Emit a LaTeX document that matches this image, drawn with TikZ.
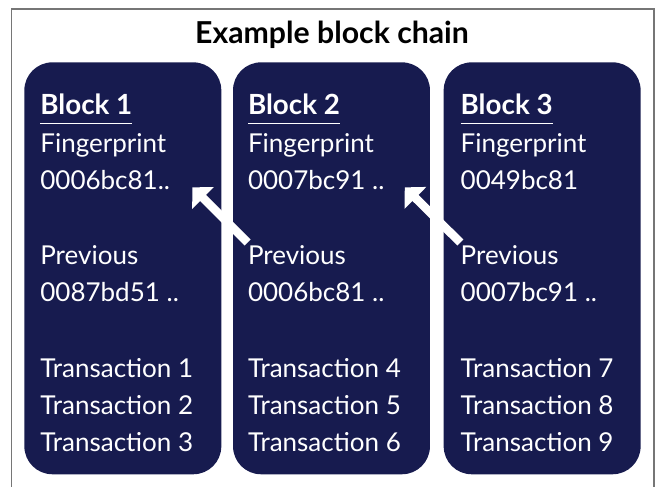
\documentclass[tikz,border=0pt]{standalone}
\usepackage{fontspec}
\setmainfont{Lato}
\usetikzlibrary{arrows.meta,positioning}
\definecolor{chainnavy}{HTML}{171B4F}
\definecolor{framegray}{HTML}{767676}
\newcommand{\blockhead}[1]{\setbox0=\hbox{\bfseries #1}\rlap{\copy0}\rule[-5.6pt]{\wd0}{1pt}}
\newcommand{\entrylines}[1]{\begin{tabular}[t]{@{}l@{}}#1\end{tabular}}
\tikzstyle{block} = [rectangle, rounded corners=0.56cm, fill=chainnavy, minimum width=3.94cm, minimum height=8.24cm, inner sep=0pt]
\tikzstyle{entry} = [text=white, inner sep=0pt, anchor=base west, font=\fontsize{14.8}{21.34}\selectfont]
\tikzstyle{head} = [entry, font=\fontsize{15.8}{21.34}\selectfont]
\tikzstyle{link} = [-{Triangle[length=0.3cm,width=0.6cm]}, white, line width=0.17cm]

\begin{document}
\begin{tikzpicture}[x=0.02cm,y=-0.02cm]
  \useasboundingbox (0,0) rectangle (657,487);
  \draw[framegray,line width=0.8pt] (11.5,487) -- (11.5,9) -- (654,9) -- (654,487);
  \node (title) [anchor=base,font=\fontsize{17.2}{20}\selectfont\bfseries] at (332,43.5) {Example block chain};

  \node[block,anchor=north west] (blk1) at (24,62) {};
  \node[block] (blk2) [right=0.22cm of blk1] {};
  \node[block] (blk3) [right=0.26cm of blk2] {};

  % block 1
  \node[head] (head1) at ([shift={(16,52.5)}]blk1.north west) {\blockhead{Block 1}};
  \node[entry] (fp1) at ([shift={(0,37.5)}]head1.base west) {\entrylines{Fingerprint\\0006bc81..}};
  \node[entry] (prev1) at ([shift={(0,150)}]head1.base west) {\entrylines{Previous\\0087bd51 ..}};
  \node[entry] (tx1) at ([shift={(0,262.5)}]head1.base west) {\entrylines{Transaction 1\\Transaction 2\\Transaction 3}};

  % block 2
  \node[head] (head2) at ([shift={(15,52.5)}]blk2.north west) {\blockhead{Block 2}};
  \node[entry] (fp2) at ([shift={(0,37.5)}]head2.base west) {\entrylines{Fingerprint\\0007bc91 ..}};
  \node[entry] (prev2) at ([shift={(0,150)}]head2.base west) {\entrylines{Previous\\0006bc81 ..}};
  \node[entry] (tx2) at ([shift={(0,262.5)}]head2.base west) {\entrylines{Transaction 4\\Transaction 5\\Transaction 6}};

  % block 3
  \node[head] (head3) at ([shift={(17,52.5)}]blk3.north west) {\blockhead{Block 3}};
  \node[entry] (fp3) at ([shift={(0,37.5)}]head3.base west) {\entrylines{Fingerprint\\0049bc81}};
  \node[entry] (prev3) at ([shift={(0,150)}]head3.base west) {\entrylines{Previous\\0007bc91 ..}};
  \node[entry] (tx3) at ([shift={(0,262.5)}]head3.base west) {\entrylines{Transaction 7\\Transaction 8\\Transaction 9}};

  % links back to the previous block
  \draw[link] ([shift={(0,-22)}]prev2.base west) -- ([shift={(22,-13.75)}]fp1.south east);
  \draw[link] ([shift={(0,-22)}]prev3.base west) -- ([shift={(20,-13.75)}]fp2.south east);
\end{tikzpicture}
\end{document}
